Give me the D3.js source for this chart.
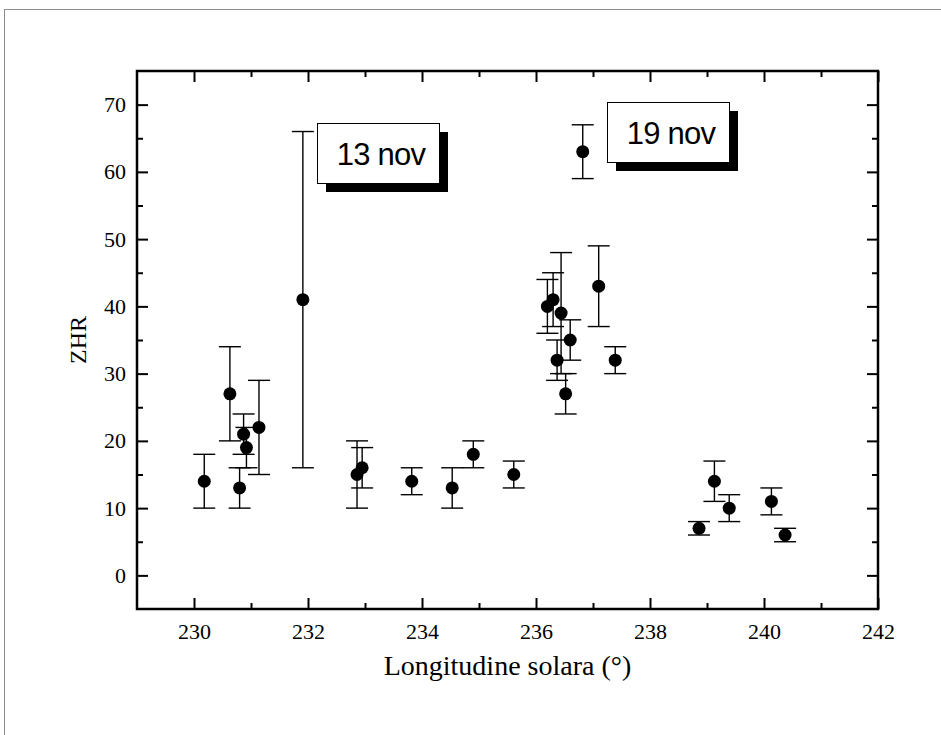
<!DOCTYPE html>
<html><head><meta charset="utf-8">
<script src="https://cdn.jsdelivr.net/npm/d3@7"></script>
<style>body{margin:0;background:#fff}svg{display:block}</style>
</head><body>
<svg id="c" width="941" height="735"></svg>
<script>
// Data
const longitudes = [230.18,230.63,230.80,230.87,230.92,231.14,231.91,
  232.86,232.95,233.82,234.53,234.90,235.61,
  236.20,236.30,236.44,236.37,236.60,236.52,236.82,237.10,237.39,
  238.86,239.13,239.39,240.13,240.37];
const zhr = [14,27,13,21,19,22,41,
  15,16,14,13,18,15,
  40,41,39,32,35,27,63,43,32,
  7,14,10,11,6];
const zhrLow = [10,20,10,18,16,15,16,
  10,13,12,10,16,13,
  36,37,30,29,32,24,59,37,30,
  6,11,8,9,5];
const zhrHigh = [18,34,16,24,22,29,66,
  20,19,16,16,20,17,
  44,45,48,35,38,30,67,49,34,
  8,17,12,13,7];
const xTicks = [230,232,234,236,238,240,242];
const yTicks = [0,10,20,30,40,50,60,70];
const labels = ["13 nov","19 nov"];

const svg = d3.select("#c");
// outer frame
svg.append("rect").attr("x",4.5).attr("y",9.5).attr("width",1000).attr("height",900)
  .attr("fill","none").attr("stroke","#8c8c8c").attr("stroke-width",1);

const L=137, R=878, T=71, B=609;
const x = d3.scaleLinear().domain([229,242]).range([L,R]);
const y = d3.scaleLinear().domain([-5,75]).range([B,T]);

const g = svg.append("g");
const serif = "'Liberation Serif','Times New Roman',Times,serif";

const xMinor = d3.range(230,242,1).filter(v=>!xTicks.includes(v));
const yMinor = d3.range(5,75,10);

// bottom
const bottom = g.append("g").attr("transform",`translate(0,${B})`)
  .call(d3.axisBottom(x).tickValues(xTicks).tickSizeInner(-11).tickSizeOuter(0).tickPadding(14).tickFormat(d3.format("d")));
g.append("g").attr("transform",`translate(0,${B})`)
  .call(d3.axisBottom(x).tickValues(xMinor).tickSizeInner(-6).tickSizeOuter(0).tickFormat(""));
// top
g.append("g").attr("transform",`translate(0,${T})`)
  .call(d3.axisTop(x).tickValues(xTicks).tickSizeInner(-11).tickSizeOuter(0).tickFormat(""));
g.append("g").attr("transform",`translate(0,${T})`)
  .call(d3.axisTop(x).tickValues(xMinor).tickSizeInner(-6).tickSizeOuter(0).tickFormat(""));
// left
const left = g.append("g").attr("transform",`translate(${L},0)`)
  .call(d3.axisLeft(y).tickValues(yTicks).tickSizeInner(-11).tickSizeOuter(0).tickPadding(11).tickFormat(d3.format("d")));
g.append("g").attr("transform",`translate(${L},0)`)
  .call(d3.axisLeft(y).tickValues(yMinor).tickSizeInner(-6).tickSizeOuter(0).tickFormat(""));
// right
g.append("g").attr("transform",`translate(${R},0)`)
  .call(d3.axisRight(y).tickValues(yTicks).tickSizeInner(-11).tickSizeOuter(0).tickFormat(""));
g.append("g").attr("transform",`translate(${R},0)`)
  .call(d3.axisRight(y).tickValues(yMinor).tickSizeInner(-6).tickSizeOuter(0).tickFormat(""));

g.selectAll(".domain").remove();
g.selectAll(".tick line").attr("stroke","#000").attr("stroke-width",2);
g.selectAll(".tick text").style("font-family",serif).style("font-size","22px").style("fill","#000");

// frame
g.append("rect").attr("x",L).attr("y",T).attr("width",R-L).attr("height",B-T)
  .attr("fill","none").attr("stroke","#000").attr("stroke-width",2.5);

// error bars
const idx = d3.range(longitudes.length);
const eb = g.append("g").attr("stroke","#000").attr("stroke-width",1.4);
const cap = 11;
eb.selectAll("line.v").data(idx).join("line").attr("class","v")
  .attr("x1",i=>x(longitudes[i])).attr("x2",i=>x(longitudes[i]))
  .attr("y1",i=>y(zhrLow[i])).attr("y2",i=>y(zhrHigh[i]));
eb.selectAll("line.h").data(idx).join("line").attr("class","h")
  .attr("x1",i=>x(longitudes[i])-cap).attr("x2",i=>x(longitudes[i])+cap)
  .attr("y1",i=>y(zhrHigh[i])).attr("y2",i=>y(zhrHigh[i]));
eb.selectAll("line.l").data(idx).join("line").attr("class","l")
  .attr("x1",i=>x(longitudes[i])-cap).attr("x2",i=>x(longitudes[i])+cap)
  .attr("y1",i=>y(zhrLow[i])).attr("y2",i=>y(zhrLow[i]));
g.append("g").selectAll("circle").data(idx).join("circle")
  .attr("cx",i=>x(longitudes[i])).attr("cy",i=>y(zhr[i])).attr("r",6.5).attr("fill","#000");

// label boxes
const boxes = [{x:317,y:123,t:labels[0]},{x:607,y:102,t:labels[1]}];
boxes.forEach(b=>{
  g.append("rect").attr("x",b.x+9).attr("y",b.y+9).attr("width",122).attr("height",60).attr("fill","#000");
  g.append("rect").attr("x",b.x+0.5).attr("y",b.y+0.5).attr("width",122).attr("height",60)
    .attr("fill","#fff").attr("stroke","#000").attr("stroke-width",1);
  g.append("text").attr("x",b.x+64).attr("y",b.y+42).attr("text-anchor","middle")
    .style("font-family","'Liberation Sans',Arial,sans-serif").style("font-size","31px")
    .attr("letter-spacing","-0.8").attr("fill","#000").text(b.t);
});

// axis titles
svg.append("text").attr("x",(L+R)/2).attr("y",675).attr("text-anchor","middle")
  .style("font-family",serif).style("font-size","28px").attr("fill","#000")
  .text("Longitudine solara (°)");
svg.append("text").attr("transform",`translate(86,${(T+B)/2}) rotate(-90)`)
  .attr("text-anchor","middle").style("font-family",serif).style("font-size","24px").attr("fill","#000")
  .text("ZHR");
</script>
</body></html>
